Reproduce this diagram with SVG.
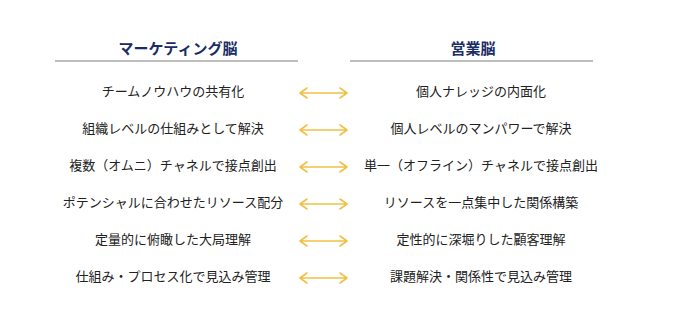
<svg xmlns="http://www.w3.org/2000/svg" width="680" height="325" viewBox="0 0 680 325">
<style>
.hd{font-family:"Noto Sans CJK JP","Noto Sans",sans-serif;font-size:15px;font-weight:bold;fill:#1b2d66;text-anchor:middle}
.tx{font-family:"Noto Sans CJK JP","Noto Sans",sans-serif;font-size:13px;fill:#222;text-anchor:middle}
.rule{stroke:#a8a8a8;stroke-width:1.5}
.ar{stroke:#f0c145;stroke-width:1.6;fill:none;stroke-linecap:round;stroke-linejoin:round}
</style>
<defs>
<g id="arrow">
<path class="ar" d="M300 0 H347 M307 -5 L300 0 L307 5 M340 -5 L347 0 L340 5"/>
</g>
</defs>
<rect width="680" height="325" fill="#fff"/>
<g id="header-left">
<text class="hd" x="178" y="54">マーケティング脳</text>
<line class="rule" x1="55" y1="61" x2="298" y2="61"/>
</g>
<g id="header-right">
<text class="hd" x="473" y="54">営業脳</text>
<line class="rule" x1="350" y1="61" x2="593" y2="61"/>
</g>
<g id="left-1"><text class="tx" x="173" y="96">チームノウハウの共有化</text></g>
<g id="left-2"><text class="tx" x="173" y="133">組織レベルの仕組みとして解決</text></g>
<g id="left-3"><text class="tx" x="173" y="170">複数（オムニ）チャネルで接点創出</text></g>
<g id="left-4"><text class="tx" x="173" y="207">ポテンシャルに合わせたリソース配分</text></g>
<g id="left-5"><text class="tx" x="173" y="244">定量的に俯瞰した大局理解</text></g>
<g id="left-6"><text class="tx" x="173" y="281">仕組み・プロセス化で見込み管理</text></g>
<g id="right-1"><text class="tx" x="481" y="96">個人ナレッジの内面化</text></g>
<g id="right-2"><text class="tx" x="481" y="133">個人レベルのマンパワーで解決</text></g>
<g id="right-3"><text class="tx" x="481" y="170">単一（オフライン）チャネルで接点創出</text></g>
<g id="right-4"><text class="tx" x="481" y="207">リソースを一点集中した関係構築</text></g>
<g id="right-5"><text class="tx" x="481" y="244">定性的に深堀りした顧客理解</text></g>
<g id="right-6"><text class="tx" x="481" y="281">課題解決・関係性で見込み管理</text></g>
<g id="connectors">
<use href="#arrow" y="93"/>
<use href="#arrow" y="130"/>
<use href="#arrow" y="167"/>
<use href="#arrow" y="204"/>
<use href="#arrow" y="241"/>
<use href="#arrow" y="278"/>
</g>
</svg>
